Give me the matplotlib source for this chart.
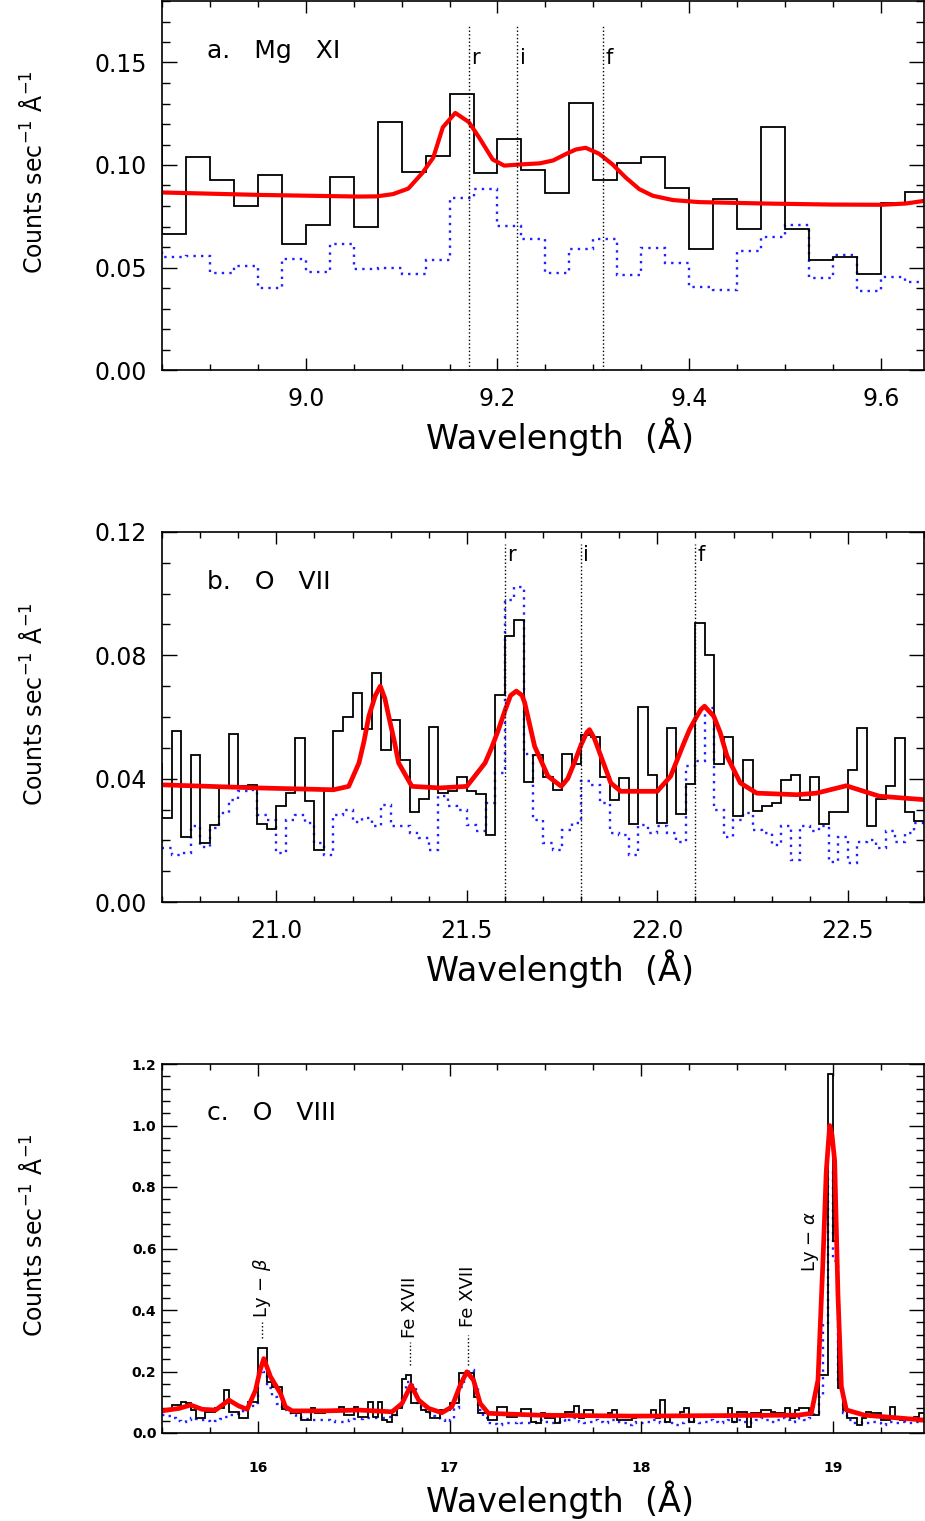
import matplotlib
matplotlib.use('Agg')
import matplotlib.pyplot as plt
from matplotlib.ticker import MultipleLocator, FormatStrFormatter
import numpy as np

# ---- a. Mg XI : 0.025 A bins starting at 8.825 ----
a_start, a_width = 8.825, 0.025
a_obs = [0.120, 0.0665, 0.1039, 0.0926, 0.0800, 0.0953, 0.0617, 0.0707, 0.0942, 0.0696,
         0.1209, 0.0968, 0.1042, 0.1348, 0.0963, 0.1126, 0.0976, 0.0861, 0.1304, 0.0926,
         0.1008, 0.1040, 0.0887, 0.0589, 0.0832, 0.0688, 0.1184, 0.0688, 0.0539, 0.0550,
         0.0466, 0.0817, 0.0866]
a_ref = [0.057, 0.0553, 0.0558, 0.0472, 0.0506, 0.0401, 0.0540, 0.0480, 0.0615, 0.0492,
         0.0498, 0.0469, 0.0537, 0.0838, 0.0885, 0.0704, 0.0639, 0.0474, 0.0591, 0.0637,
         0.0461, 0.0596, 0.0523, 0.0405, 0.0388, 0.0579, 0.0650, 0.0709, 0.0450, 0.0563,
         0.0383, 0.0455, 0.0429]
a_fit_wl = [8.85, 8.952, 9.056, 9.074, 9.091, 9.107, 9.122, 9.133, 9.143, 9.156, 9.170,
            9.181, 9.195, 9.207, 9.225, 9.244, 9.258, 9.272, 9.282, 9.292, 9.306, 9.320,
            9.334, 9.348, 9.362, 9.383, 9.410, 9.480, 9.549, 9.601, 9.626, 9.645]
a_fit = [0.0866, 0.0854, 0.0846, 0.0847, 0.0858, 0.0885, 0.0963, 0.1036, 0.1184, 0.1254,
         0.1210, 0.1133, 0.1027, 0.0997, 0.1003, 0.1008, 0.1022, 0.1055, 0.1076, 0.1084,
         0.1055, 0.1003, 0.0938, 0.0882, 0.0850, 0.0829, 0.0819, 0.0812, 0.0807, 0.0806,
         0.0812, 0.0825]
a_lines = [9.17, 9.22, 9.31]
a_names = ['r', 'i', 'f']

# ---- b. O VII : 0.025 A bins starting at 20.675 ----
b_start, b_width = 20.675, 0.025
b_obs = [0.0446, 0.0272, 0.0554, 0.0212, 0.0476, 0.0191, 0.0250, 0.0372, 0.0546, 0.0375,
         0.0380, 0.0254, 0.0237, 0.0312, 0.0353, 0.0531, 0.0326, 0.0169, 0.0365, 0.0554,
         0.0599, 0.0677, 0.0561, 0.0742, 0.0493, 0.0589, 0.0461, 0.0292, 0.0335, 0.0566,
         0.0354, 0.0359, 0.0407, 0.0359, 0.0350, 0.0217, 0.0671, 0.0863, 0.0915, 0.0388,
         0.0477, 0.0405, 0.0362, 0.0480, 0.0446, 0.0541, 0.0535, 0.0407, 0.0332, 0.0401,
         0.0254, 0.0634, 0.0411, 0.0257, 0.0565, 0.0287, 0.0384, 0.0906, 0.0800, 0.0446,
         0.0534, 0.0278, 0.0459, 0.0296, 0.0312, 0.0321, 0.0397, 0.0411, 0.0332, 0.0407,
         0.0254, 0.0292, 0.0292, 0.0429, 0.0565, 0.0247, 0.0334, 0.0377, 0.0531, 0.0291,
         0.0263]
b_ref = [0.0218, 0.0175, 0.0153, 0.0158, 0.0245, 0.0180, 0.0240, 0.0288, 0.0332, 0.0359,
         0.0364, 0.0283, 0.0267, 0.0158, 0.0267, 0.0283, 0.0256, 0.0191, 0.0153, 0.0283,
         0.0299, 0.0261, 0.0272, 0.0245, 0.0315, 0.0245, 0.0247, 0.0223, 0.0207, 0.0169,
         0.0343, 0.0310, 0.0299, 0.0250, 0.0229, 0.0321, 0.0418, 0.0978, 0.1023, 0.0480,
         0.0267, 0.0191, 0.0169, 0.0234, 0.0256, 0.0391, 0.0380, 0.0321, 0.0223, 0.0218,
         0.0153, 0.0250, 0.0223, 0.0245, 0.0223, 0.0196, 0.0440, 0.0456, 0.0630, 0.0299,
         0.0210, 0.0267, 0.0288, 0.0234, 0.0223, 0.0185, 0.0245, 0.0137, 0.0245, 0.0229,
         0.0245, 0.0131, 0.0212, 0.0126, 0.0196, 0.0202, 0.0175, 0.0229, 0.0196, 0.0223,
         0.0256]
b_fit_wl = [20.70, 20.95, 21.15, 21.19, 21.217, 21.23, 21.243, 21.26, 21.273, 21.285,
            21.295, 21.31, 21.321, 21.356, 21.43, 21.50, 21.548, 21.565, 21.582, 21.60,
            21.615, 21.63, 21.645, 21.652, 21.678, 21.713, 21.748, 21.765, 21.782, 21.80,
            21.815, 21.822, 21.835, 21.852, 21.878, 21.904, 22.0, 22.035, 22.07, 22.085,
            22.104, 22.115, 22.124, 22.135, 22.148, 22.165, 22.183, 22.218, 22.261, 22.366,
            22.418, 22.496, 22.583, 22.70]
b_fit = [0.0380, 0.0370, 0.0364, 0.0375, 0.0451, 0.0520, 0.0603, 0.0670, 0.0700, 0.0660,
         0.0603, 0.0520, 0.0451, 0.0375, 0.0370, 0.0375, 0.0451, 0.0500, 0.0555, 0.0620,
         0.0670, 0.0684, 0.0670, 0.0646, 0.0505, 0.0408, 0.0375, 0.0400, 0.0451, 0.0510,
         0.0550, 0.0559, 0.0530, 0.0473, 0.0386, 0.0359, 0.0359, 0.0408, 0.0516, 0.0560,
         0.0603, 0.0625, 0.0635, 0.0620, 0.0603, 0.0550, 0.0473, 0.0386, 0.0353, 0.0348,
         0.0353, 0.0377, 0.0343, 0.0332]
b_lines = [21.60, 21.80, 22.10]
b_names = ['r', 'i', 'f']

# ---- c. O VIII : 0.025 A bins starting at 15.5 ----
c_start, c_width = 15.5, 0.025
c_obs = [0.0746, 0.077, 0.091, 0.091, 0.1016, 0.096, 0.0746, 0.0476, 0.0476, 0.069,
         0.069, 0.080, 0.080, 0.139, 0.069, 0.069, 0.0476, 0.0476, 0.1016, 0.1016,
         0.278, 0.278, 0.166, 0.150, 0.150, 0.077, 0.077, 0.066, 0.066, 0.042,
         0.042, 0.080, 0.066, 0.066, 0.0746, 0.0746, 0.0746, 0.085, 0.058, 0.058,
         0.085, 0.053, 0.053, 0.1016, 0.053, 0.1016, 0.042, 0.037, 0.058, 0.080,
         0.174, 0.188, 0.096, 0.096, 0.0746, 0.069, 0.0476, 0.0476, 0.0746, 0.0746,
         0.096, 0.096, 0.1935, 0.1935, 0.1935, 0.118, 0.064, 0.064, 0.042, 0.042,
         0.085, 0.085, 0.053, 0.053, 0.058, 0.077, 0.077, 0.037,
         0.031, 0.064, 0.048, 0.048, 0.031, 0.053, 0.069, 0.069, 0.088, 0.048,
         0.075, 0.075, 0.053, 0.053, 0.053, 0.064, 0.075, 0.042, 0.042, 0.042,
         0.048, 0.053, 0.053, 0.053, 0.075, 0.048, 0.107, 0.037, 0.053, 0.053,
         0.069, 0.080, 0.037, 0.053, 0.055, 0.058, 0.055, 0.053, 0.058, 0.053,
         0.080, 0.037, 0.069, 0.069, 0.021, 0.064, 0.064, 0.075, 0.075, 0.069,
         0.064, 0.064, 0.080, 0.048, 0.075, 0.080, 0.080, 0.058, 0.058, 0.190,
         0.190, 1.166, 0.626, 0.145, 0.075, 0.048, 0.048, 0.026, 0.048, 0.069,
         0.064, 0.064, 0.042, 0.042, 0.085, 0.048, 0.042, 0.042, 0.042, 0.053,
         0.066]
c_ref = [0.058, 0.055, 0.050, 0.040, 0.037, 0.042, 0.048, 0.046, 0.042, 0.040,
         0.037, 0.040, 0.046, 0.053, 0.058, 0.061, 0.064, 0.072, 0.080, 0.096,
         0.210, 0.199, 0.145, 0.118, 0.095, 0.075, 0.066, 0.058, 0.053, 0.048,
         0.045, 0.042, 0.042, 0.042, 0.042, 0.040, 0.037, 0.037, 0.040, 0.042,
         0.044, 0.046, 0.048, 0.048, 0.048, 0.048, 0.050, 0.053, 0.060, 0.080,
         0.120, 0.166, 0.156, 0.096, 0.075, 0.064, 0.056, 0.048, 0.042, 0.037,
         0.042, 0.080, 0.150, 0.199, 0.204, 0.150, 0.075, 0.050, 0.031, 0.029,
         0.026, 0.028, 0.031, 0.034, 0.037, 0.034, 0.031, 0.034,
         0.037, 0.042, 0.037, 0.031, 0.037, 0.042, 0.037, 0.042, 0.048, 0.037,
         0.031, 0.037, 0.042, 0.037, 0.031, 0.037, 0.042, 0.037, 0.031, 0.026,
         0.031, 0.037, 0.031, 0.037, 0.042, 0.037, 0.031, 0.037, 0.031, 0.026,
         0.031, 0.037, 0.042, 0.037, 0.031, 0.037, 0.042, 0.037, 0.031, 0.037,
         0.042, 0.037, 0.042, 0.037, 0.031, 0.037, 0.042, 0.048, 0.042, 0.037,
         0.042, 0.048, 0.042, 0.037, 0.042, 0.048, 0.042, 0.048, 0.064, 0.118,
         0.354, 0.853, 0.560, 0.160, 0.064, 0.042, 0.031, 0.031, 0.037, 0.031,
         0.037, 0.031, 0.026, 0.031, 0.037, 0.031, 0.037, 0.031, 0.031, 0.037,
         0.042]
c_fit_wl = [15.50, 15.589, 15.649, 15.71, 15.78, 15.849, 15.90, 15.944, 15.988, 16.01,
            16.031, 16.066, 16.092, 16.118, 16.144, 16.179, 16.352, 16.526, 16.70, 16.752,
            16.799, 16.839, 16.891, 16.96, 17.012, 17.056, 17.09, 17.125, 17.16, 17.203,
            17.464, 17.95, 18.818, 18.887, 18.922, 18.948, 18.965, 18.983, 18.995, 19.009,
            19.026, 19.044, 19.07, 19.165, 19.475]
c_fit = [0.072, 0.080, 0.091, 0.077, 0.0746, 0.107, 0.088, 0.077, 0.139, 0.200,
         0.242, 0.183, 0.156, 0.129, 0.085, 0.072, 0.072, 0.0746, 0.069, 0.096,
         0.156, 0.107, 0.080, 0.066, 0.085, 0.156, 0.199, 0.172, 0.096, 0.064,
         0.058, 0.055, 0.058, 0.064, 0.172, 0.561, 0.850, 1.000, 0.970, 0.885,
         0.453, 0.150, 0.075, 0.058, 0.042]
# line IDs: wavelength of tick, tick bottom/top, text bottom
c_ids = ['Ly $-$ $\\beta$', 'Fe XVII', 'Fe XVII', 'Ly $-$ $\\alpha$']
c_id_wl = [16.02, 16.795, 17.094, 18.885]
c_id_tick = [(0.308, 0.36), (0.22, 0.295), (0.22, 0.318), None]
c_id_text = [0.373, 0.308, 0.344, 0.522]

XLAB = 'Wavelength  (Å)'
YLAB = 'Counts sec$^{-1}$ Å$^{-1}$'
BLUE = '#1f1fff'


def edges(start, width, vals):
    return start + width * np.arange(len(vals) + 1)


def dress(ax, xmaj, xmin, ymaj, ymin, fmt_x, fmt_y, small=False):
    ax.xaxis.set_major_locator(MultipleLocator(xmaj))
    ax.xaxis.set_minor_locator(MultipleLocator(xmin))
    ax.yaxis.set_major_locator(MultipleLocator(ymaj))
    ax.yaxis.set_minor_locator(MultipleLocator(ymin))
    ax.xaxis.set_major_formatter(FormatStrFormatter(fmt_x))
    ax.yaxis.set_major_formatter(FormatStrFormatter(fmt_y))
    ax.tick_params(which='both', direction='in', top=True, right=True, width=1.0)
    ax.tick_params(axis='x', which='major', length=8.5)
    ax.tick_params(axis='x', which='minor', length=4.5)
    ax.tick_params(axis='y', which='major', length=11)
    ax.tick_params(axis='y', which='minor', length=5.5)
    if small:
        ax.tick_params(axis='x', which='major', labelsize=10, pad=20)
        ax.tick_params(axis='y', which='major', labelsize=10, pad=4)
        for lab in ax.get_xticklabels() + ax.get_yticklabels():
            lab.set_fontweight('bold')
    else:
        ax.tick_params(axis='x', which='major', labelsize=17, pad=12)
        ax.tick_params(axis='y', which='major', labelsize=17, pad=11)
    for s in ax.spines.values():
        s.set_linewidth(1.2)
    ax.set_xlabel(XLAB, fontsize=24)
    ax.xaxis.label.set_va('center')
    ax.xaxis.set_label_coords(0.522, -0.181)
    ax.set_ylabel(YLAB, fontsize=17)
    ax.yaxis.label.set_va('center')
    ax.yaxis.set_label_coords(-0.168, 0.535)


def spectrum(ax, start, width, obs, ref, fit_wl, fit, lw_fit=3.0):
    ax.stairs(ref, edges(start, width, ref), baseline=None, color=BLUE,
              lw=1.7, linestyle=(0, (1, 2.2)))
    ax.stairs(obs, edges(start, width, obs), baseline=None, color='black', lw=1.3)
    ax.plot(fit_wl, fit, color='red', lw=lw_fit, solid_joinstyle='round',
            solid_capstyle='round')


fig = plt.figure(figsize=(9.25, 15.21), dpi=100)
L, W = 162 / 925, 762 / 925
ax_a = fig.add_axes([L, 1 - 370 / 1521, W, 369 / 1521])
ax_b = fig.add_axes([L, 1 - 902 / 1521, W, 370 / 1521])
ax_c = fig.add_axes([L, 1 - 1433 / 1521, W, 369 / 1521])

# panel a
spectrum(ax_a, a_start, a_width, a_obs, a_ref, a_fit_wl, a_fit)
ax_a.vlines(a_lines, 0, 0.168, colors='black', linestyles=':', lw=1.0)
for wl, nm in zip(a_lines, a_names):
    ax_a.text(wl + 0.003, 0.152, nm, fontsize=15, ha='left', va='center')
ax_a.set_xlim(8.85, 9.645)
ax_a.set_ylim(0, 0.18)
dress(ax_a, 0.2, 0.05, 0.05, 0.01, '%.1f', '%.2f')
ax_a.text(0.059, 0.865, 'a.   Mg   XI', transform=ax_a.transAxes, fontsize=18,
          va='center', ha='left')

# panel b
spectrum(ax_b, b_start, b_width, b_obs, b_ref, b_fit_wl, b_fit, lw_fit=3.4)
ax_b.vlines(b_lines, 0, 0.116, colors='black', linestyles=':', lw=1.0)
for wl, nm in zip(b_lines, b_names):
    ax_b.text(wl + 0.006, 0.1125, nm, fontsize=15, ha='left', va='center')
ax_b.set_xlim(20.7, 22.7)
ax_b.set_ylim(0, 0.12)
dress(ax_b, 0.5, 0.1, 0.04, 0.01, '%.1f', '%.2f')
ax_b.text(0.059, 0.865, 'b.   O   VII', transform=ax_b.transAxes, fontsize=18,
          va='center', ha='left')

# panel c
spectrum(ax_c, c_start, c_width, c_obs, c_ref, c_fit_wl, c_fit, lw_fit=3.4)
for nm, wl, tk, ty in zip(c_ids, c_id_wl, c_id_tick, c_id_text):
    if tk is not None:
        ax_c.vlines(wl, tk[0], tk[1], colors='black', linestyles=':', lw=1.0)
    ax_c.text(wl, ty, nm, rotation=90, fontsize=13, ha='center', va='bottom')
ax_c.set_xlim(15.5, 19.475)
ax_c.set_ylim(0, 1.2)
dress(ax_c, 1, 0.25, 0.2, 0.04, '%d', '%.1f', small=True)
ax_c.text(0.059, 0.867, 'c.   O   VIII', transform=ax_c.transAxes, fontsize=18,
          va='center', ha='left')

fig.savefig('out.png', dpi=100)
